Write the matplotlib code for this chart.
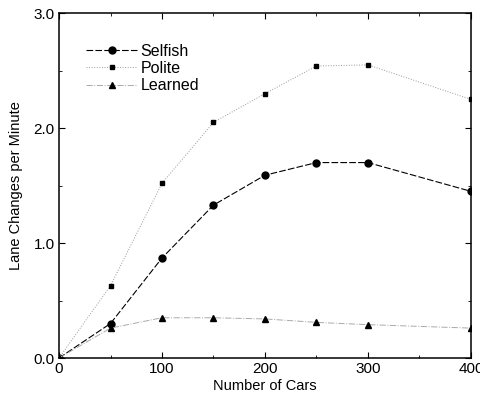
import matplotlib.pyplot as plt
from matplotlib.ticker import MultipleLocator, FormatStrFormatter

plt.rcParams['font.family'] = ['Liberation Sans', 'DejaVu Sans']

cars = [0, 50, 100, 150, 200, 250, 300, 400]
selfish = [0.0, 0.30, 0.87, 1.33, 1.59, 1.70, 1.70, 1.45]
polite = [0.0, 0.63, 1.52, 2.05, 2.30, 2.54, 2.55, 2.25]
learned = [0.0, 0.26, 0.35, 0.35, 0.34, 0.31, 0.29, 0.26]

fig = plt.figure(figsize=(4.8, 3.98), dpi=100)
ax = fig.add_axes([0.123, 0.1005, 0.858, 0.8665])

ax.plot(cars, selfish, color='black', lw=0.8, ls=(0, (6, 2)), marker='o', ms=5, label='Selfish')
ax.plot(cars, polite, color='#999999', lw=0.7, ls=':', marker='s', ms=3.5,
        mfc='black', mec='black', label='Polite')
ax.plot(cars, learned, color='#aaaaaa', lw=0.7, ls='-.', marker='^', ms=5,
        mfc='black', mec='black', label='Learned')

ax.set_xlim(0, 400)
ax.set_ylim(0, 3.0)
ax.xaxis.set_major_locator(MultipleLocator(100))
ax.xaxis.set_minor_locator(MultipleLocator(50))
ax.yaxis.set_major_locator(MultipleLocator(1.0))
ax.yaxis.set_minor_locator(MultipleLocator(0.5))
ax.yaxis.set_major_formatter(FormatStrFormatter('%.1f'))
ax.tick_params(which='both', direction='in', top=True, right=True, labelsize=11)
ax.tick_params(which='major', length=4, pad=3)
ax.tick_params(which='minor', length=2.5)
for s in ax.spines.values():
    s.set_linewidth(1.1)

ax.set_xlabel('Number of Cars', fontsize=10.5, labelpad=2)
ax.set_ylabel('Lane Changes per Minute', fontsize=10.5, labelpad=8)

ax.legend(loc='upper left', bbox_to_anchor=(0.05, 0.93), frameon=False, fontsize=11.5,
          handlelength=3.2, handletextpad=0.2, labelspacing=0.15, borderaxespad=0)

fig.savefig('out.png', dpi=100)
